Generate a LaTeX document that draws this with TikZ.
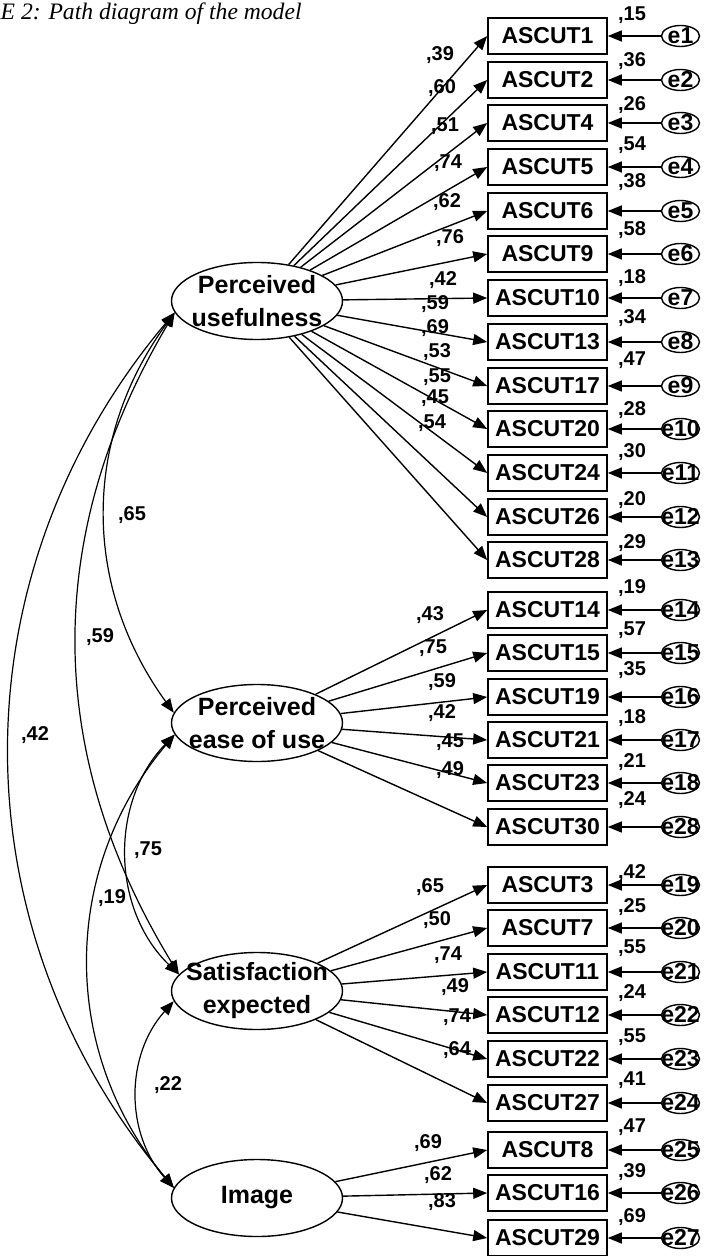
\documentclass[tikz,border=0pt]{standalone}
\usepackage{fontspec}
\setmainfont{Liberation Sans}
\newfontfamily\capfont{Liberation Serif}
\usetikzlibrary{shapes,arrows.meta,positioning}

\begin{document}
\begin{tikzpicture}[x=0.5pt,y=-0.5pt,->,>={Triangle[length=7pt,width=5.5pt]},line width=0.7pt,
  lat node/.style={ellipse,draw,minimum width=85.5pt,minimum height=38.5pt,inner xsep=-6pt,inner ysep=-2pt,align=center,font=\bfseries\fontsize{12.5}{16.5}\selectfont},
  obs node/.style={rectangle,draw,line width=0.8pt,minimum width=59.5pt,minimum height=18pt,inner sep=0pt,font=\bfseries\fontsize{11.5}{13}\selectfont},
  err node/.style={ellipse,draw,minimum width=19pt,minimum height=10.5pt,inner xsep=0pt,inner ysep=-1pt,font=\bfseries\fontsize{11.5}{13}\selectfont},
  coef/.style={inner sep=0pt,font=\bfseries\fontsize{10}{11}\selectfont},
  cov/.style={<->,line width=0.6pt}]
  \useasboundingbox (0,0) rectangle (704,1256);

  \node[anchor=base west,inner sep=0pt,font=\capfont\itshape\fontsize{11.8}{13}\selectfont] (title) at (0,20) {E 2: Path diagram of the model};

  % latent variables
  \node[lat node] (pu) at (257,301) {Perceived\\usefulness};
  \node[lat node] (peou) at (257,723) {Perceived\\ease of use};
  \node[lat node] (se) at (257,991) {Satisfaction\\expected};
  \node[lat node] (img) at (257,1198) {Image};

  % indicators: number/y/error/variance/variance y/loading/label x/label y
  \foreach \ix/\yy/\ee/\vv/\vy/\cc/\cx/\cy in {1/36/1/15/15/39/440/55, 2/80/2/36/61/60/442/88,
      4/123/3/26/105/51/445/126, 5/167/4/54/145/74/448/163, 6/211/5/38/182/62/447/202,
      9/254/6/58/230/76/450/238, 10/298/7/18/278/42/443/280, 13/342/8/34/318/59/435/304,
      17/386/9/47/360/69/435/328, 20/429/10/28/410/53/437/352, 24/473/11/30/452/55/437/377,
      26/517/12/20/500/45/435/398, 28/560/13/29/543/54/432/423} {
    \node[obs node] (a\ix) at (547.5,\yy) {ASCUT\ix};
    \node[err node,right=26.5pt of a\ix] (e\ee) {\makebox[0pt]{e\ee}};
    \draw (e\ee) -- (a\ix);
    \draw (pu) -- (a\ix.west);
    \node[coef] (v\ix) at (632,\vy) {,\vv};
    \node[coef] (l\ix) at (\cx,\cy) {,\cc};
  }
  \foreach \ix/\yy/\ee/\vv/\vy/\cc/\cx/\cy in {14/610/14/19/588/43/430/615, 15/653/15/57/630/75/433/648,
      19/697/16/35/670/59/442/682, 21/740/17/18/718/42/442/713, 23/783/18/21/762/45/450/742,
      30/827/28/24/800/49/450/770} {
    \node[obs node] (a\ix) at (547.5,\yy) {ASCUT\ix};
    \node[err node,right=26.5pt of a\ix] (e\ee) {\makebox[0pt]{e\ee}};
    \draw (e\ee) -- (a\ix);
    \draw (peou) -- (a\ix.west);
    \node[coef] (v\ix) at (632,\vy) {,\vv};
    \node[coef] (l\ix) at (\cx,\cy) {,\cc};
  }
  \foreach \ix/\yy/\ee/\vv/\vy/\cc/\cx/\cy in {3/885/19/42/873/65/430/887, 7/928/20/25/907/50/437/920,
      11/972/21/55/948/74/448/955, 12/1015/22/24/993/49/455/987, 22/1059/23/55/1037/74/457/1017,
      27/1103/24/41/1080/64/457/1050} {
    \node[obs node] (a\ix) at (547.5,\yy) {ASCUT\ix};
    \node[err node,right=26.5pt of a\ix] (e\ee) {\makebox[0pt]{e\ee}};
    \draw (e\ee) -- (a\ix);
    \draw (se) -- (a\ix.west);
    \node[coef] (v\ix) at (632,\vy) {,\vv};
    \node[coef] (l\ix) at (\cx,\cy) {,\cc};
  }
  \foreach \ix/\yy/\ee/\vv/\vy/\cc/\cx/\cy in {8/1150/25/47/1127/69/428/1143, 16/1193/26/39/1172/62/438/1175,
      29/1238/27/69/1217/83/442/1202} {
    \node[obs node] (a\ix) at (547.5,\yy) {ASCUT\ix};
    \node[err node,right=26.5pt of a\ix] (e\ee) {\makebox[0pt]{e\ee}};
    \draw (e\ee) -- (a\ix);
    \draw (img) -- (a\ix.west);
    \node[coef] (v\ix) at (632,\vy) {,\vv};
    \node[coef] (l\ix) at (\cx,\cy) {,\cc};
  }

  % correlations
  \draw[cov] (pu.188) to[bend right=36] (peou.173);
  \draw[cov] (pu.188) to[bend right=31] (se.168);
  \draw[cov] (pu.188) to[bend right=40] (img.173);
  \draw[cov] (peou.188) to[bend right=45] (se.168);
  \draw[cov] (peou.188) to[bend right=40] (img.173);
  \draw[cov] (se.187) to[bend right=42] (img.173);
  \node[coef] (c1) at (132,515) {,65};
  \node[coef] (c2) at (100,637) {,59};
  \node[coef] (c3) at (35,735) {,42};
  \node[coef] (c4) at (148,850) {,75};
  \node[coef] (c5) at (112,898) {,19};
  \node[coef] (c6) at (168,1085) {,22};
\end{tikzpicture}
\end{document}
